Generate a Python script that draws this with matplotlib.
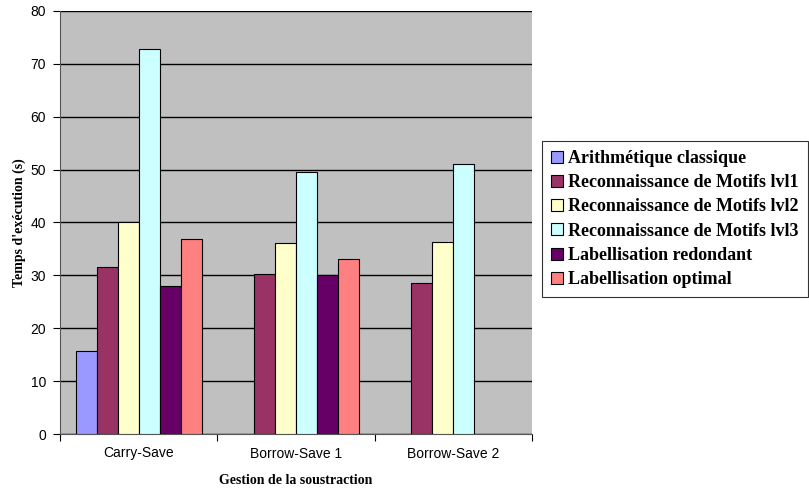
import matplotlib
matplotlib.use("Agg")
import matplotlib.pyplot as plt
import numpy as np

categories = ["Carry-Save", "Borrow-Save 1", "Borrow-Save 2"]
series_names = ["Arithmétique classique", "Reconnaissance de Motifs lvl1",
                "Reconnaissance de Motifs lvl2", "Reconnaissance de Motifs lvl3",
                "Labellisation redondant", "Labellisation optimal"]
arith = [15.7, np.nan, np.nan]
motifs1 = [31.6, 30.2, 28.5]
motifs2 = [40.0, 36.1, 36.3]
motifs3 = [72.8, 49.6, 51.1]
redondant = [28.0, 30.1, np.nan]
optimal = [36.8, 33.1, np.nan]
yticks = [0, 10, 20, 30, 40, 50, 60, 70, 80]

series = [arith, motifs1, motifs2, motifs3, redondant, optimal]
colors = ["#9999FF", "#993366", "#FFFFCC", "#CCFFFF", "#660066", "#FF8080"]

fig = plt.figure(figsize=(8.09, 4.91), dpi=100)
ax = fig.add_axes([60/809, 1-434/491, (532-60)/809, (434-11)/491])
ax.set_facecolor("#C0C0C0")

x = np.arange(len(categories))
w = 1/7.5
for i, (vals, c, name) in enumerate(zip(series, colors, series_names)):
    ax.bar(x + (i - 2.5) * w, vals, width=w, color=c, edgecolor="black",
           linewidth=0.8, label=name, zorder=3)

ax.set_xlim(-0.5, 2.5)
ax.set_ylim(0, 80)
ax.set_yticks(yticks)
ax.yaxis.grid(True, color="black", linewidth=1.0, zorder=0)
ax.set_axisbelow(True)

ax.set_xticks([-0.5, 0.5, 1.5, 2.5])
ax.set_xticklabels([])
ax.set_xticks(x, minor=True)
ax.set_xticklabels(categories, minor=True)
ax.tick_params(axis="x", which="minor", length=0, pad=9)
ax.tick_params(axis="x", which="major", length=5, direction="out", color="black")
ax.tick_params(axis="y", length=5, direction="out", pad=5)
for lab in ax.get_xticklabels(minor=True) + ax.get_yticklabels():
    lab.set_fontfamily("Liberation Sans")
    lab.set_fontsize(10)

for s in ["top", "right"]:
    ax.spines[s].set_visible(False)
ax.spines["left"].set_color("#555555")
ax.spines["bottom"].set_color("#555555")

ax.set_xlabel("Gestion de la soustraction", fontfamily="Liberation Serif",
              fontweight="bold", fontsize=10, labelpad=10)
ax.set_ylabel("Temps d'exécution (s)", fontfamily="Liberation Serif",
              fontweight="bold", fontsize=10, labelpad=3)

leg = fig.legend(loc="upper left", bbox_to_anchor=(542/809, 1-141/491),
                 prop={"family": "Liberation Serif", "weight": "bold", "size": 13},
                 frameon=True, fancybox=False, edgecolor="black",
                 handlelength=0.65, handleheight=0.65, handletextpad=0.3,
                 labelspacing=0.4, borderpad=0.5, borderaxespad=0)
leg.get_frame().set_linewidth(0.8)

fig.savefig("out.png", dpi=100, facecolor="white")
